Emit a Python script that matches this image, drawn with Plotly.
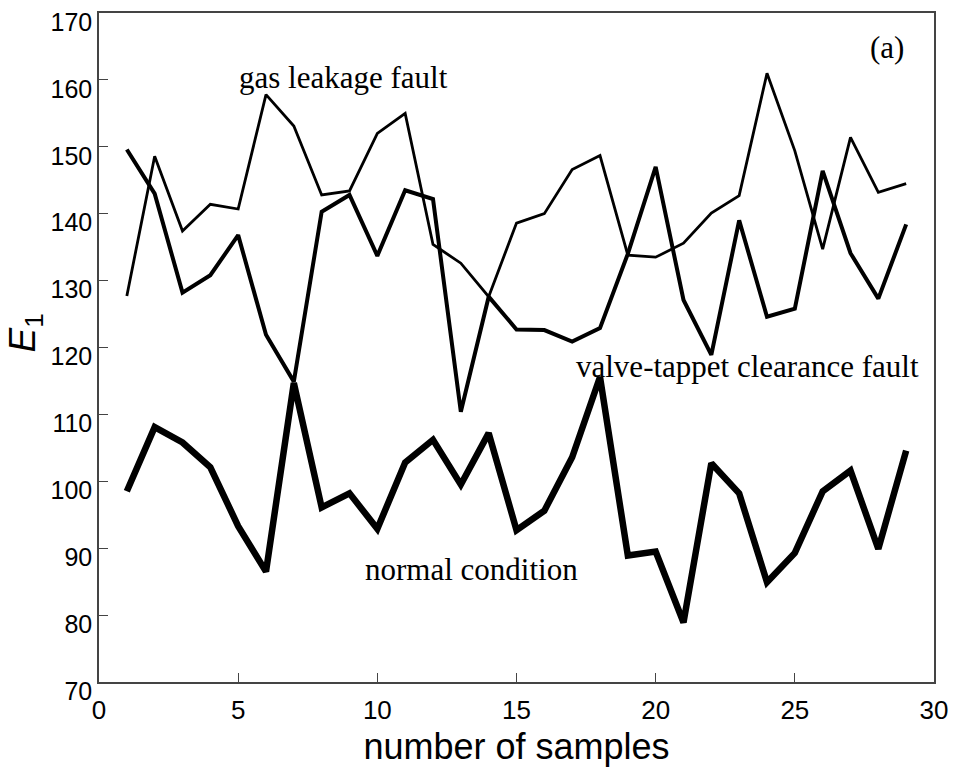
import plotly.graph_objects as go

samples = list(range(1, 30))

gas_leakage = [127.7, 148.6, 137.4, 141.4, 140.7, 157.8, 153.1, 142.8, 143.4, 152.0,
               155.0, 135.4, 132.6, 127.6, 138.6, 140.0, 146.6, 148.7, 133.8, 133.5,
               135.6, 140.1, 142.7, 161.0, 149.4, 134.7, 151.4, 143.2, 144.5]

valve_tappet = [149.6, 143.0, 128.2, 130.8, 136.8, 121.9, 114.9, 140.3, 142.8, 133.7,
                143.5, 142.2, 110.4, 127.6, 122.7, 122.6, 120.9, 122.9, 134.0, 147.0,
                127.1, 118.9, 139.0, 124.6, 125.8, 146.4, 134.1, 127.3, 138.4]

normal = [98.5, 108.1, 105.8, 102.1, 93.3, 86.5, 114.7, 96.1, 98.2, 92.9,
          102.8, 106.2, 99.5, 107.2, 92.7, 95.6, 103.6, 115.6, 88.9, 89.5,
          78.9, 102.7, 98.2, 84.9, 89.3, 98.5, 101.6, 89.9, 104.6]

x_ticks = [0, 5, 10, 15, 20, 25, 30]
y_ticks = [70, 80, 90, 100, 110, 120, 130, 140, 150, 160, 170]

fig = go.Figure()
fig.add_trace(go.Scatter(x=samples, y=gas_leakage, mode="lines",
                         line=dict(color="black", width=2.8), name="gas leakage fault"))
fig.add_trace(go.Scatter(x=samples, y=valve_tappet, mode="lines",
                         line=dict(color="black", width=4), name="valve-tappet clearance fault"))
fig.add_trace(go.Scatter(x=samples, y=normal, mode="lines",
                         line=dict(color="black", width=6.5), name="normal condition"))

serif = dict(family="Liberation Serif, Times New Roman, serif", size=31, color="black")
labels = [
    ("gas leakage fault", 8.8, 160.4),
    ("(a)", 28.3, 164.9),
    ("valve-tappet clearance fault", 23.3, 117.2),
    ("normal condition", 13.4, 86.8),
]
for text, lx, ly in labels:
    fig.add_annotation(x=lx, y=ly, xref="x", yref="y", text=text, showarrow=False,
                       font=serif, xanchor="center", yanchor="middle")

# y-axis title: italic E with subscript 1, rotated
fig.add_annotation(x=-0.089, y=0.522, xref="paper", yref="paper",
                   text="<i>E</i><sub>1</sub>", showarrow=False, textangle=-90,
                   font=dict(family="Liberation Sans, Arial, sans-serif", size=37, color="black"),
                   xanchor="center", yanchor="middle")

sans = "Liberation Sans, Arial, sans-serif"
fig.update_layout(
    width=960, height=767,
    margin=dict(l=99, r=26, t=13, b=85),
    plot_bgcolor="white", paper_bgcolor="white",
    showlegend=False,
    xaxis=dict(range=[0, 30], tickvals=x_ticks, ticks="inside", ticklen=9,
               tickcolor="#444", showline=True, linecolor="#444", linewidth=1.5,
               mirror=True, showgrid=False, zeroline=False, automargin=False,
               ticklabeloverflow="allow", ticklabelstandoff=4,
               tickfont=dict(family=sans, size=26, color="black"),
               title=dict(text="number of samples", standoff=20,
                          font=dict(family=sans, size=36, color="black"))),
    yaxis=dict(range=[70, 170], tickvals=y_ticks, ticks="inside", ticklen=9,
               tickcolor="#444", showline=True, linecolor="#444", linewidth=1.5,
               mirror=True, showgrid=False, zeroline=False, automargin=False,
               ticklabeloverflow="allow", ticklabelshift=9,
               tickfont=dict(family=sans, size=25, color="black")),
)

fig.write_html("out.html")
